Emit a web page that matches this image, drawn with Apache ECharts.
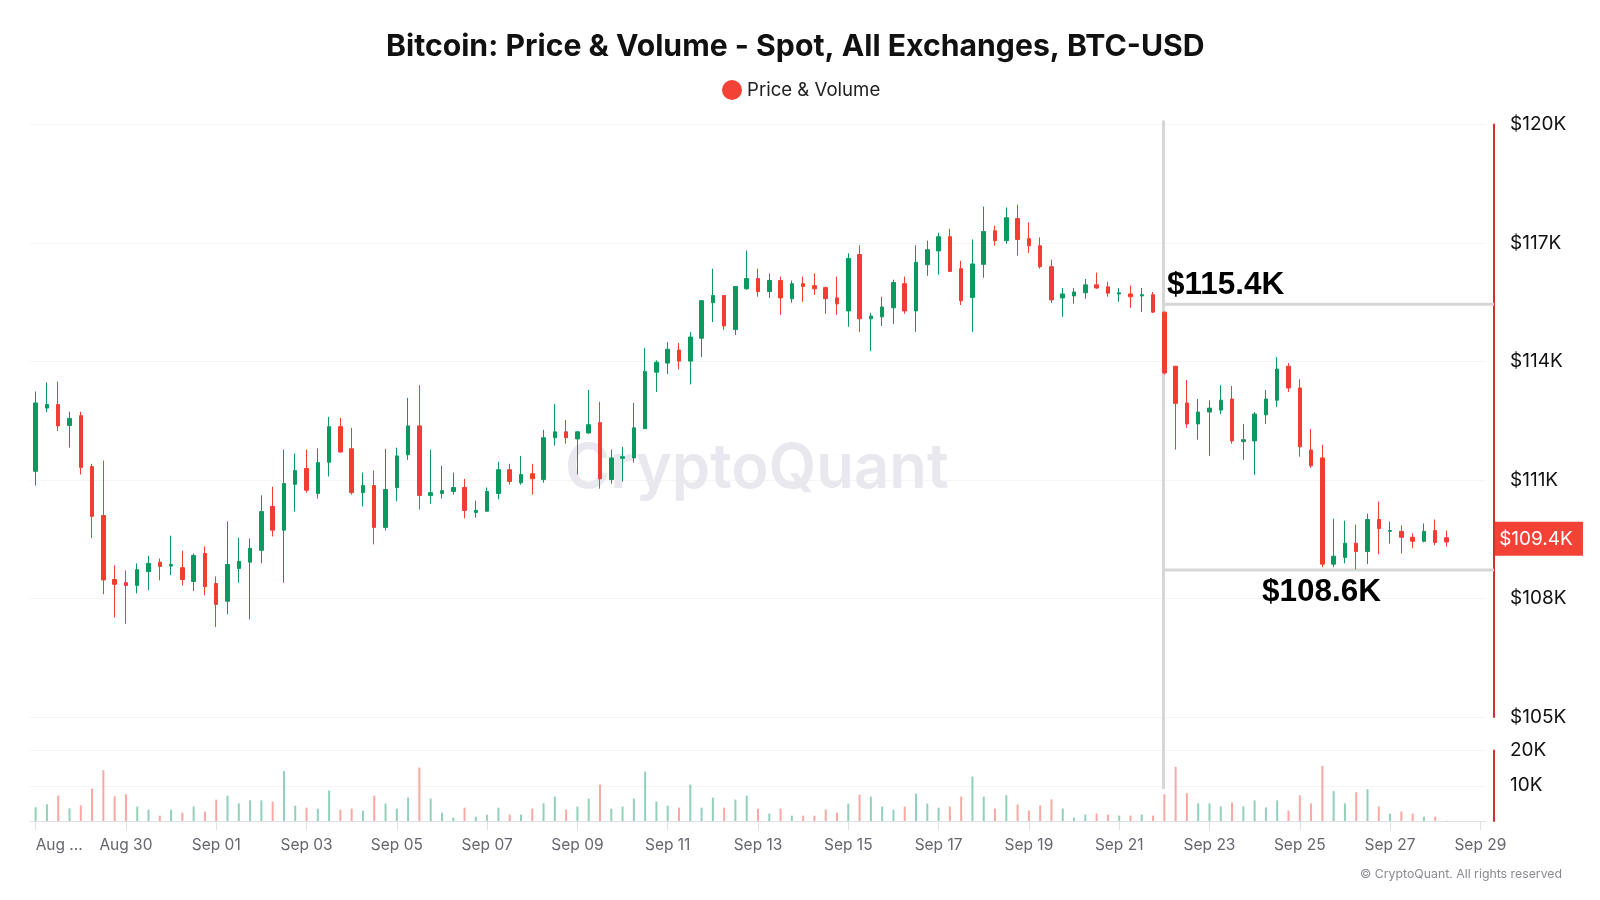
<!DOCTYPE html>
<html>
<head>
<meta charset="utf-8">
<style>html,body{margin:0;padding:0;background:#fff}#c{width:1600px;height:900px}</style>
<script src="https://cdn.jsdelivr.net/npm/echarts@6/dist/echarts.min.js"></script>
</head>
<body>
<div id="c"></div>
<script>
const opens=[111220,112820,112910,112380,112630,111340,110100,108480,108400,108330,
108680,108920,108820,108780,108430,109140,108380,107930,108760,108920,
109220,110330,109730,110890,111290,110660,111450,112350,111790,110680,
110860,109800,110810,111640,112370,110610,110660,110710,110810,110180,
110210,110660,111260,110930,111160,111010,112070,112220,112040,112190,
112450,111010,111550,111560,112300,113730,113960,114290,114010,114590,
115490,115670,114810,115840,116100,115770,116050,115590,115970,115920,
115870,115610,115280,116710,115080,115130,115360,115970,115280,116450,
116800,117160,116350,115620,116460,117310,117060,117620,117110,116930,
116400,115610,115660,115740,115940,115890,115710,115710,115660,115690,
115250,113880,112950,112420,112720,112770,113050,111970,111990,112650,
113020,113880,113330,111760,111560,108870,109040,109400,109190,110000,
109700,109700,109550,109450,109720,109540];
const closes=[112950,112910,112370,112560,111320,110080,108470,108360,108330,108730,
108890,108810,108860,108480,109090,108300,107850,108860,108940,109270,
110200,109730,110910,111240,110740,111440,112350,111710,110680,110860,
109800,110760,111610,112370,110610,110680,110730,110810,110230,110230,
110710,111260,110960,111140,111030,112070,112220,112070,112220,112400,
111030,111560,111590,112320,113750,113980,114310,114010,114620,115540,
115670,114900,115900,116100,115770,116050,115610,115970,115900,115840,
115590,115460,116610,115080,115150,115380,116000,115280,116510,116830,
117160,116280,115540,116470,117290,117060,117640,117090,116930,116400,
115560,115710,115760,115940,115860,115730,115740,115640,115690,115250,
113710,112940,112420,112720,112820,113020,111990,112020,112670,113050,
113810,113330,111840,111360,108870,109070,109400,109190,110000,109770,
109720,109550,109450,109700,109420,109430];
const lows=[110860,112720,112240,111820,111140,109530,108110,107520,107360,108130,
108210,108460,108590,108330,108190,108080,107280,107600,108400,107470,
108890,109570,108400,110200,110680,110530,111090,111690,110630,110330,
109370,109720,110460,111510,110250,110400,110530,110630,110030,110050,
110200,110510,110880,110880,110630,110930,111870,111920,111140,112170,
110780,110910,110960,111440,112290,113230,113680,113800,113420,114110,
115000,114800,114670,115820,115640,115610,115180,115490,115510,115690,
115210,115180,114880,114750,114260,114900,114950,115210,114750,116170,
116200,116270,115430,114750,116120,116930,116980,116680,116750,116350,
115480,115130,115460,115590,115840,115640,115510,115360,115250,115230,
113670,111770,112320,112020,111610,112670,111920,111510,111130,112420,
112850,113230,111590,111310,108790,108790,108890,108740,108870,109120,
109390,109140,109270,109420,109350,109310];
const highs=[113240,113470,113490,112730,112730,111410,111490,108840,108710,108890,
109080,109010,109590,109210,109140,109320,108560,109950,109540,109520,
110610,110830,111770,111670,111770,111800,112600,112570,112320,111190,
111240,111790,111820,113080,113400,111770,111360,111190,111030,110480,
110810,111460,111410,111610,111410,112270,112920,112520,112240,113280,
112980,111770,111840,112950,114340,114030,114490,114470,114750,115550,
116350,115680,115910,116810,116350,116230,116150,116050,116150,116230,
115900,116150,116740,116940,115230,115640,116070,116150,116940,117060,
117260,117360,116550,117090,117920,117440,117900,117970,117520,117140,
116580,115860,115860,116090,116250,116020,115860,115920,115860,115760,
115260,113890,113530,113050,113020,113400,113380,112420,112720,113280,
114110,113960,113550,112290,111890,110020,109970,109870,110150,110450,
109950,109850,109650,109900,110000,109720];
const volumes=[3890,4740,7200,3600,4460,9200,14410,7020,7580,4080,
3220,1520,3220,2370,4080,2650,6070,7200,5020,5880,
5880,5500,14130,4360,3790,3510,8630,3220,3510,2940,
7200,4930,3510,6640,15170,6350,2370,950,3790,1230,
1800,3790,1800,1800,3510,5020,6920,3220,4080,6350,
10330,3510,4080,6350,14030,5500,4360,3790,10330,3790,
6640,3790,6070,7200,3510,2090,3510,1520,1520,1520,
3220,2370,4930,7490,6920,4080,3220,4080,7770,4930,
3790,4080,6920,12610,6920,3510,7300,4700,2980,4420,
6140,3550,960,1820,2110,1820,1540,1540,1820,1540,
7580,15360,7870,4990,4990,4130,5280,4130,5860,3840,
5860,2980,7300,4990,15650,8450,4990,8160,9020,4130,
2110,2690,2110,1250,1250,100];
const tickDays=['Aug ...','Aug 30','Sep 01','Sep 03','Sep 05','Sep 07','Sep 09','Sep 11','Sep 13','Sep 15','Sep 17','Sep 19','Sep 21','Sep 23','Sep 25','Sep 27','Sep 29'];
const barsPerTick=8;
const categories=[];
tickDays.forEach((d,i)=>{categories.push(d);if(i<tickDays.length-1)for(let k=1;k<barsPerTick;k++)categories.push(d+' +'+k);});

const upColor='#0a9a60', downColor='#f23d33', legendRed='#f44336';
const ohlc=opens.map((o,i)=>[o,closes[i],lows[i],highs[i]]);
const volumeItems=volumes.map((v,i)=>({value:v,itemStyle:{color:closes[i]>=opens[i]?upColor:downColor,opacity:.45}}));

const FONT='Inter';
const chart=echarts.init(document.getElementById('c'),null,{renderer:'canvas'});
chart.setOption({
  animation:false,
  backgroundColor:'#fff',
  textStyle:{fontFamily:FONT},
  title:{text:'Bitcoin: Price & Volume - Spot, All Exchanges, BTC-USD',left:381,top:27,
    textStyle:{fontFamily:FONT,fontSize:30.2,fontWeight:700,color:'#111'}},
  legend:{data:[{name:'Price & Volume',icon:'circle',itemStyle:{color:legendRed,borderColor:legendRed,borderWidth:0}}],left:717,top:75,itemWidth:20,itemHeight:20,itemGap:6,
    textStyle:{fontFamily:FONT,fontSize:18.6,color:'#222'},selectedMode:false},
  grid:[{left:30,right:114,top:124.5,height:592.5},{left:30,right:114,top:750.5,height:70.5}],
  xAxis:[
    {type:'category',gridIndex:0,data:categories,axisLine:{show:false},axisTick:{show:false},axisLabel:{show:false},splitLine:{show:false}},
    {type:'category',gridIndex:1,data:categories,
      axisLine:{show:true,lineStyle:{color:'#dfdfe6',width:1}},
      axisTick:{show:true,interval:barsPerTick-1,alignWithLabel:true,length:9,lineStyle:{color:'#dfdfe6'}},
      axisLabel:{interval:barsPerTick-1,color:'#66666e',fontSize:15.5,margin:16,fontFamily:FONT,alignMinLabel:'left'},splitLine:{show:false}}
  ],
  yAxis:[
    {type:'value',gridIndex:0,position:'right',offset:8,min:105000,max:120000,interval:3000,
      axisLine:{show:true,lineStyle:{color:'#d32f2f',width:2}},axisTick:{show:false},
      axisLabel:{margin:16,fontSize:19,color:'#111',fontFamily:FONT,padding:[2,0,0,0],formatter:v=>'$'+(v/1000)+'K'},
      splitLine:{show:true,lineStyle:{color:'#f5f5f5',width:1}}},
    {type:'value',gridIndex:1,position:'right',offset:8,min:0,max:20000,interval:10000,
      axisLine:{show:true,lineStyle:{color:'#d32f2f',width:2}},axisTick:{show:false},
      axisLabel:{margin:16,fontSize:19,color:'#111',fontFamily:FONT,padding:[2,0,0,0],formatter:v=>v===0?'':(v/1000)+'K'},
      splitLine:{show:true,lineStyle:{color:'#f5f5f5',width:1}}}
  ],
  series:[
    {name:'Price & Volume',type:'candlestick',z:3,xAxisIndex:0,yAxisIndex:0,data:ohlc,barWidth:4,
      itemStyle:{color:upColor,color0:downColor,borderColor:upColor,borderColor0:downColor,borderWidth:1}},
    {name:'Volume',type:'bar',z:3,xAxisIndex:1,yAxisIndex:1,data:volumeItems,barWidth:2}
  ]
});

const xPix=i=>chart.convertToPixel({xAxisIndex:0},i);
const pricePix=v=>chart.convertToPixel({yAxisIndex:0},v);
const volPix=v=>chart.convertToPixel({yAxisIndex:1},v);

const breakIndex=100, upperLevel=115450, lowerLevel=108720, lineTopPrice=120100, lineEndVolume=9100;
const lastPrice=109510, lastPriceLabel='$109.4K';
const axisX=1494, gray='#d6d6d6';
const lineStyle={stroke:gray,lineWidth:3};
const bx=xPix(breakIndex)-0.8;
chart.setOption({graphic:[
  {type:'text',z:1,x:565,y:439,style:{text:'CryptoQuant',font:'600 61.5px Inter',fill:'#e8e8ee'},silent:true},
  {type:'line',z:2,shape:{x1:bx,y1:pricePix(lineTopPrice),x2:bx,y2:volPix(lineEndVolume)},style:lineStyle},
  {type:'line',z:2,shape:{x1:bx,y1:pricePix(upperLevel),x2:axisX,y2:pricePix(upperLevel)},style:lineStyle},
  {type:'line',z:2,shape:{x1:bx,y1:pricePix(lowerLevel),x2:axisX,y2:pricePix(lowerLevel)},style:lineStyle},
  {type:'text',z:6,x:1167,y:pricePix(upperLevel)-35,style:{text:'$115.4K',font:'700 31.5px "Liberation Sans", sans-serif',fill:'#000'}},
  {type:'text',z:6,x:1262,y:pricePix(lowerLevel)+6,style:{text:'$108.6K',font:'700 31.5px "Liberation Sans", sans-serif',fill:'#000'}},
  {type:'rect',z:7,shape:{x:1495,y:pricePix(lastPrice)-17,width:88,height:34},style:{fill:legendRed}},
  {type:'text',z:8,x:1536,y:pricePix(lastPrice),style:{text:lastPriceLabel,font:'400 19px Inter',fill:'#fff',align:'center',verticalAlign:'middle'}},
  {type:'text',z:8,x:1562,y:874,style:{text:'© CryptoQuant. All rights reserved',font:'400 12.3px Inter',fill:'#8a8a92',align:'right',verticalAlign:'middle'}}
]});
</script>
</body>
</html>
